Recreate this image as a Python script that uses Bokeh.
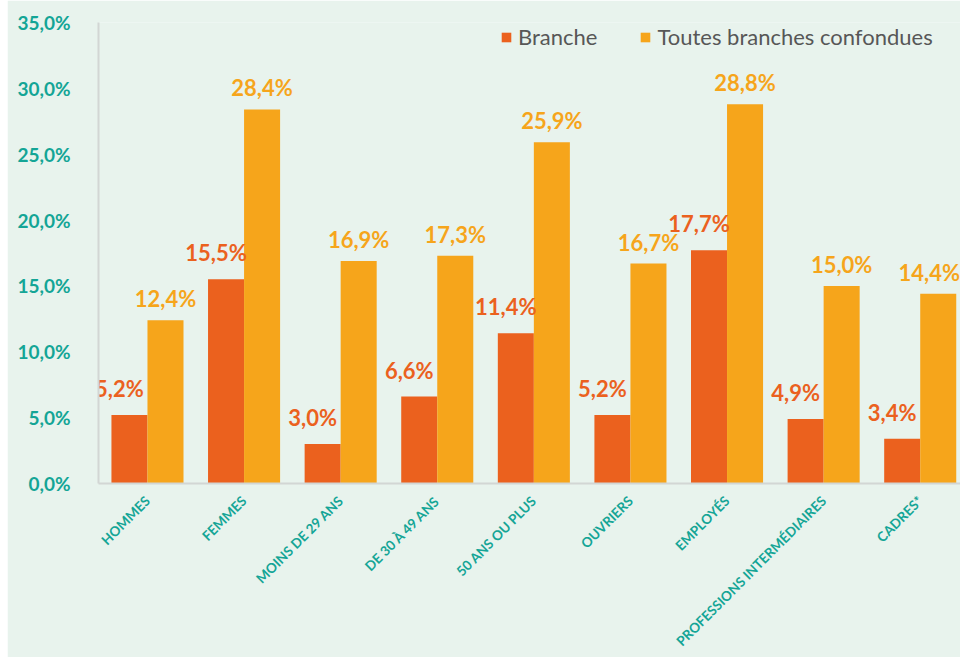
from bokeh.plotting import figure
from bokeh.models import ColumnDataSource, Range1d, FixedTicker, Legend, LegendItem, Spacer
from bokeh.layouts import row
from bokeh.core.properties import value
from bokeh.embed import file_html
from bokeh.resources import INLINE
import math

categories = ["HOMMES", "FEMMES", "MOINS DE 29 ANS", "DE 30 À 49 ANS", "50 ANS OU PLUS",
              "OUVRIERS", "EMPLOYÉS", "PROFESSIONS INTERMÉDIAIRES", "CADRES*"]
branche = [5.2, 15.5, 3.0, 6.6, 11.4, 5.2, 17.7, 4.9, 3.4]
toutes = [12.4, 28.4, 16.9, 17.3, 25.9, 16.7, 28.8, 15.0, 14.4]
series_names = ["Branche", "Toutes branches confondues"]
y_ticks = [0, 5, 10, 15, 20, 25, 30, 35]
y_tick_labels = ["0,0%", "5,0%", "10,0%", "15,0%", "20,0%", "25,0%", "30,0%", "35,0%"]

RED = "#EB611E"
YEL = "#F6A51B"
TEAL = "#14A596"
BG = "#E8F3ED"
FONT = "Lato"

def fmt(v):
    return f"{v:.1f}".replace(".", ",") + "%"

bw = 0.373
idx = list(range(len(categories)))
# keep the last label inside the page
yel_xoff = [0] * (len(idx) - 1) + [-9]
src_b = ColumnDataSource(dict(x=[i - bw / 2 for i in idx], top=branche, lab=[fmt(v) for v in branche]))
src_t = ColumnDataSource(dict(x=[i + bw / 2 for i in idx], top=toutes, lab=[fmt(v) for v in toutes],
                              xoff=yel_xoff))

p = figure(width=953, height=657, output_backend="svg", toolbar_location=None,
           x_range=Range1d(-0.507, 8.417), y_range=Range1d(0, 35),
           min_border_left=91, min_border_right=0, min_border_top=22, min_border_bottom=173)
p.background_fill_color = BG
p.border_fill_color = BG
p.outline_line_color = None
p.grid.grid_line_color = None

r1 = p.vbar(x="x", top="top", width=bw, source=src_b, fill_color=RED, line_color=None)
r2 = p.vbar(x="x", top="top", width=bw, source=src_t, fill_color=YEL, line_color=None)

p.text(x="x", y="top", text="lab", source=src_b, text_color=RED, text_font=value(FONT),
       text_font_style="bold", text_font_size="22px", text_align="center",
       text_baseline="bottom", x_offset=-10, y_offset=-13)
p.text(x="x", y="top", text="lab", source=src_t, text_color=YEL, text_font=value(FONT),
       text_font_style="bold", text_font_size="22px", text_align="center",
       text_baseline="bottom", x_offset="xoff", y_offset=-8)

# axes
p.xaxis.ticker = FixedTicker(ticks=idx)
p.xaxis.major_label_overrides = {i: c for i, c in zip(idx, categories)}
p.xaxis.major_label_orientation = math.pi / 4
p.xaxis.major_label_text_color = TEAL
p.xaxis.major_label_text_font = FONT
p.xaxis.major_label_text_font_style = "bold"
p.xaxis.major_label_text_font_size = "13.5px"
p.xaxis.major_label_standoff = 9
p.yaxis.ticker = FixedTicker(ticks=y_ticks)
p.yaxis.major_label_overrides = {t: l for t, l in zip(y_ticks, y_tick_labels)}
p.yaxis.major_label_text_color = TEAL
p.yaxis.major_label_text_font = FONT
p.yaxis.major_label_text_font_style = "bold"
p.yaxis.major_label_text_font_size = "19px"
p.yaxis.major_label_standoff = 22
for ax in (p.xaxis, p.yaxis):
    ax.major_tick_line_color = None
    ax.minor_tick_line_color = None
    ax.axis_line_color = "#D2D6D4"
    ax.axis_line_width = 2

legend = Legend(items=[LegendItem(label=series_names[0], renderers=[r1]),
                       LegendItem(label=series_names[1], renderers=[r2])],
                orientation="horizontal", location=(402, 433),
                glyph_width=12, glyph_height=12, label_standoff=6, spacing=42,
                padding=0, margin=0, border_line_color=None, background_fill_alpha=0,
                label_text_font=FONT, label_text_font_size="22px", label_text_color="#575757")
p.add_layout(legend)

layout = row(Spacer(width=7, height=657), p)
open("out.html", "w").write(file_html(layout, INLINE))
